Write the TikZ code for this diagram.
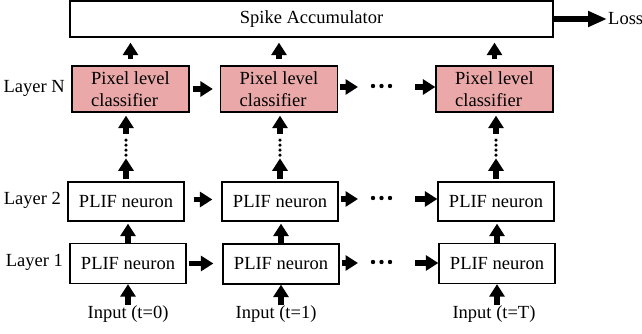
\documentclass[tikz,border=0pt]{standalone}
\usepackage{fontspec}
\setmainfont{Liberation Serif}
\usetikzlibrary{arrows.meta}
\definecolor{pinkfill}{RGB}{234,168,168}
\tikzset{
  txt/.style={font=\fontsize{18.5}{22}\selectfont},
  box/.style={draw, line width=1.3pt, inner sep=0pt, txt},
  plif/.style={box, minimum width=116pt, minimum height=39pt},
  cls/.style={box, fill=pinkfill, minimum width=117pt, minimum height=46pt, align=left},
  lbl/.style={txt, inner sep=0pt},
  arr/.style={line width=5.5pt, -{Triangle[length=12.5pt,width=15pt]}},
  bigarr/.style={line width=5.5pt, -{Triangle[length=19pt,width=15pt]}}
}
\begin{document}
\begin{tikzpicture}[x=1pt,y=-1pt]
\useasboundingbox (0,0) rectangle (642,334);

% accumulator and loss
\node[box, minimum width=483pt, minimum height=36pt] (acc) at (311.5,19) {Spike Accumulator};
\node[lbl, anchor=west] (loss) at (608,19) {Loss};
\draw[bigarr, shorten >=1pt] (acc.east) -- (loss.west);

% classifiers (Layer N)
\node[cls] (c1) at (130.5,89) {Pixel level\\classifier};
\node[cls] (c2) at (279,89) {Pixel level\\classifier};
\node[cls] (c3) at (494.5,89) {Pixel level\\classifier};

% PLIF layer 2
\node[plif] (p21) at (126,201.5) {PLIF neuron};
\node[plif] (p22) at (280,201.5) {PLIF neuron};
\node[plif] (p23) at (496,201.5) {PLIF neuron};

% PLIF layer 1
\node[plif, minimum height=40pt] (p11) at (128,263.5) {PLIF neuron};
\node[plif, minimum height=40pt] (p12) at (281,264) {PLIF neuron};
\node[plif, minimum height=40pt] (p13) at (497,263.5) {PLIF neuron};

% layer labels
\node[lbl, anchor=east] (ln) at (65,88) {Layer N};
\node[lbl, anchor=east] (l2) at (61,200) {Layer 2};
\node[lbl, anchor=east] (l1) at (63,262) {Layer 1};

% inputs
\node[lbl] (in1) at (128,314) {Input (t=0)};
\node[lbl] (in2) at (276,314) {Input (t=1)};
\node[lbl] (in3) at (494,314) {Input (t=T)};

% input arrows
\draw[arr] (in1.north -| p11.south) -- (p11.south);
\draw[arr] (in2.north -| p12.south) -- (p12.south);
\draw[arr] (in3.north -| p13.south) -- (p13.south);

% layer1 -> layer2
\draw[arr, shorten >=2pt] (p11.north) -- (p11.north |- p21.south);
\draw[arr, shorten >=2pt] (p12.north) -- (p12.north |- p22.south);
\draw[arr, shorten >=2pt] (p13.north) -- (p13.north |- p23.south);

% classifier -> accumulator
\draw[arr, shorten <=6pt, shorten >=5pt] (c1.north) -- (c1.north |- acc.south);
\draw[arr, shorten <=6pt, shorten >=5pt] (c2.north) -- (c2.north |- acc.south);
\draw[arr, shorten <=6pt, shorten >=5pt] (c3.north) -- (c3.north |- acc.south);

% layer2 -> ... -> classifier (dotted)
\foreach \p/\c in {p21/c1, p22/c2, p23/c3}{
  \coordinate (\p up) at ([yshift=23pt]\p.north);
  \coordinate (\p dn) at ([yshift=-21pt]\p.north |- \c.south);
  \draw[arr, shorten <=2pt] (\p.north) -- (\p up);
  \draw[arr, shorten >=3pt] (\p dn) -- (\p.north |- \c.south);
  \foreach \d in {27.5,32.5,37.5,42.5}{
    \fill ([yshift=-\d pt]\p.north |- \c.south) circle (1.8pt);
  }
}

% horizontal arrows between columns 1 and 2
\draw[arr, shorten <=3pt, shorten >=7pt] (c1.east) -- (c1.east -| c2.west);
\draw[arr, shorten <=9pt, shorten >=9pt] ([yshift=2pt]p21.east) -- ([yshift=2pt]p21.east -| p22.west);
\draw[arr, shorten <=2pt, shorten >=9pt] (p11.east) -- (p11.east -| p12.west);

% arrows into and out of the ellipses
\foreach \a/\b/\y/\r in {c2/c3/87/n, p22/p23/199/b, p12/p13/263/a}{
  \coordinate (dl\r) at (358,\y);
  \coordinate (dr\r) at (415,\y);
  \draw[arr, shorten <=2pt] (\a.east |- dl\r) -- (dl\r);
  \draw[arr] (dr\r) -- (dr\r -| \b.west);
  \foreach \x in {373,381.5,390}{
    \fill (\x,\y-1) circle (2.2pt);
  }
}
\end{tikzpicture}
\end{document}
